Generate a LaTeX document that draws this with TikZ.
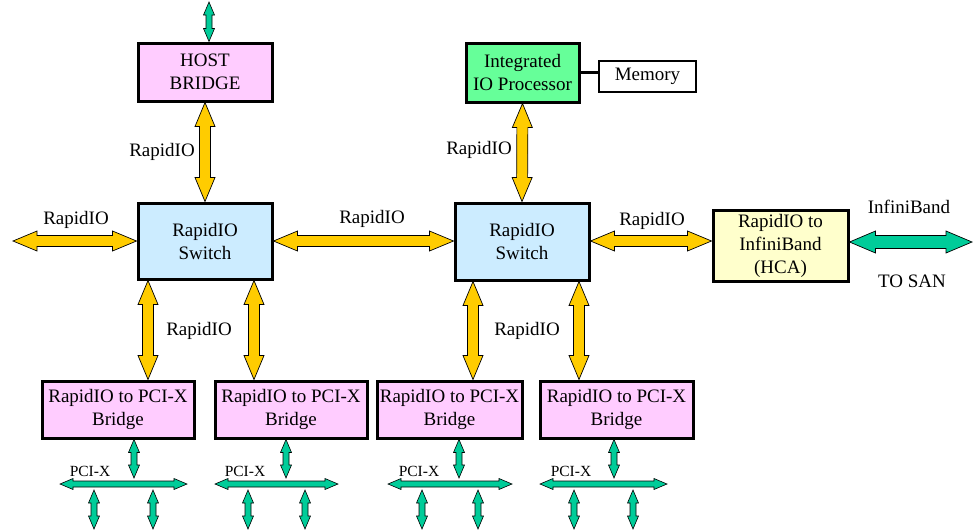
\documentclass[tikz,border=0pt]{standalone}
\usepackage{fontspec}
\setmainfont{Liberation Serif}
\newfontfamily\labelserif{Liberation Serif}
\usetikzlibrary{calc}

\definecolor{rioyellow}{HTML}{FFCC00}
\definecolor{busgreen}{HTML}{00CC99}
\definecolor{bridgepink}{HTML}{FFCCFF}
\definecolor{switchblue}{HTML}{CCECFF}
\definecolor{hcayellow}{HTML}{FFFFCC}
\definecolor{iopgreen}{HTML}{66FF99}

\tikzset{
  % outlined double-headed block arrow between two points
  fatpath/.style={line width=0.7pt, draw=black, line join=miter,
    to path={
      (\tikztostart)
      -- ($(\tikztostart)!\ahl!(\tikztotarget)!\ahw!90:(\tikztotarget)$)
      -- ($(\tikztostart)!\ahl!(\tikztotarget)!\asw!90:(\tikztotarget)$)
      -- ($(\tikztotarget)!\ahl!(\tikztostart)!\asw!-90:(\tikztostart)$)
      -- ($(\tikztotarget)!\ahl!(\tikztostart)!\ahw!-90:(\tikztostart)$)
      -- (\tikztotarget)
      -- ($(\tikztotarget)!\ahl!(\tikztostart)!\ahw!90:(\tikztostart)$)
      -- ($(\tikztotarget)!\ahl!(\tikztostart)!\asw!90:(\tikztostart)$)
      -- ($(\tikztostart)!\ahl!(\tikztotarget)!\asw!-90:(\tikztotarget)$)
      -- ($(\tikztostart)!\ahl!(\tikztotarget)!\ahw!-90:(\tikztotarget)$)
      -- cycle}},
  bigarrow/.style={fatpath, fill=rioyellow,
    /utils/exec={\def\ahl{24pt}\def\ahw{10pt}\def\asw{5.5pt}}},
  sanarrow/.style={fatpath, fill=busgreen,
    /utils/exec={\def\ahl{26pt}\def\ahw{11pt}\def\asw{6.5pt}}},
  busarrow/.style={fatpath, line width=0.6pt, fill=busgreen,
    /utils/exec={\def\ahl{13pt}\def\ahw{5.5pt}\def\asw{3pt}}},
  blk/.style={draw=black, line width=3pt, align=center, inner sep=0pt,
    font=\labelserif\fontsize{19}{23}\selectfont},
  lbl/.style={font=\labelserif\fontsize{19}{23}\selectfont, inner sep=0pt},
  buslbl/.style={font=\labelserif\fontsize{15.5}{18}\selectfont, inner sep=0pt},
}

\begin{document}
\begin{tikzpicture}[x=1pt, y=-1pt]
\useasboundingbox (0,0) rectangle (974,531);

% main blocks
\node[blk, fill=bridgepink, minimum width=134pt, minimum height=58pt] (hb) at (205,72) {HOST\\BRIDGE};
\node[blk, fill=switchblue, minimum width=134pt, minimum height=76pt] (sw1) at (205,241) {RapidIO\\Switch};
\node[blk, fill=iopgreen, minimum width=113pt, minimum height=59pt] (iop) at (522.5,72.5) {Integrated\\IO Processor};
\node[blk, fill=white, line width=2.2pt, minimum width=97pt, minimum height=31pt] (mem) at (647.5,76.5) {Memory};
\node[blk, fill=switchblue, minimum width=134pt, minimum height=77pt] (sw2) at (522,241.5) {RapidIO\\Switch};
\node[blk, fill=hcayellow, minimum width=135pt, minimum height=71pt] (hca) at (780.5,245.5) {RapidIO to\\InfiniBand\\(HCA)};

% PCI-X bridges
\node[blk, fill=bridgepink, minimum width=152pt, minimum height=57pt] (b1) at (118,409.5) {RapidIO to PCI-X\\Bridge};
\node[blk, fill=bridgepink, minimum width=152pt, minimum height=57pt] (b2) at (291,409.5) {RapidIO to PCI-X\\Bridge};
\node[blk, fill=bridgepink, minimum width=145pt, minimum height=57pt] (b3) at (449.5,409.5) {RapidIO to PCI-X\\Bridge};
\node[blk, fill=bridgepink, minimum width=153pt, minimum height=57pt] (b4) at (616.5,409.5) {RapidIO to PCI-X\\Bridge};

% free ends
\coordinate (hostup) at (209,2);
\coordinate (westend) at (13,241);
\coordinate (sanend) at (972,242);

% memory link
\draw[line width=2.4pt] (iop.east) -- (iop.east -| mem.west);

% RapidIO links
\draw[bigarrow] (hb.south) to (sw1.north);
\draw[bigarrow] (iop.south) to (sw2.north);
\draw[bigarrow] (westend) to (sw1.west);
\draw[bigarrow] (sw1.east) to (sw1.east -| sw2.west);
\draw[bigarrow] (sw1.east -| sw2.east) to (sw1.east -| hca.west);
\draw[bigarrow] ([xshift=-57pt]sw1.south) to ([xshift=30pt]b1.north);
\draw[bigarrow] ([xshift=49pt]sw1.south) to ([xshift=-37pt]b2.north);
\draw[bigarrow] ([xshift=-49pt]sw2.south) to ([xshift=23.5pt]b3.north);
\draw[bigarrow] ([xshift=57pt]sw2.south) to ([xshift=-37.5pt]b4.north);

% host side and SAN links
\draw[busarrow] (hostup) to (hostup |- hb.north);
\draw[sanarrow] (sanend -| hca.east) to (sanend);

% RapidIO labels
\node[lbl] (l1) at (162,152) {RapidIO};
\node[lbl] (l2) at (76,220) {RapidIO};
\node[lbl] (l3) at (372,219) {RapidIO};
\node[lbl] (l4) at (479,150) {RapidIO};
\node[lbl] (l5) at (652,221) {RapidIO};
\node[lbl] (l6) at (199,331) {RapidIO};
\node[lbl] (l7) at (527,331) {RapidIO};
\node[lbl] (l8) at (909,207) {InfiniBand};
\node[lbl] (l9) at (912,281) {TO SAN};

% PCI-X buses below each bridge
\foreach \b/\tx/\xa/\xb/\da/\db/\lx in {
    b1/134/60/187/94/153/90,
    b2/286/215/338/248/305/245,
    b3/459/388/512/422/478/419,
    b4/614/540/667/574/633/571} {
  \coordinate (\b-tap) at (\tx,478);
  \coordinate (\b-busl) at (\xa,484);
  \coordinate (\b-busr) at (\xb,484);
  \coordinate (\b-d1t) at (\da,490);
  \coordinate (\b-d1b) at (\da,529);
  \coordinate (\b-d2t) at (\db,490);
  \coordinate (\b-d2b) at (\db,529);
  \draw[busarrow] (\b.south -| \b-tap) to (\b-tap);
  \draw[busarrow] (\b-busl) to (\b-busr);
  \draw[busarrow] (\b-d1t) to (\b-d1b);
  \draw[busarrow] (\b-d2t) to (\b-d2b);
  \node[buslbl] (\b-lbl) at (\lx,471) {PCI-X};
}
\end{tikzpicture}
\end{document}
